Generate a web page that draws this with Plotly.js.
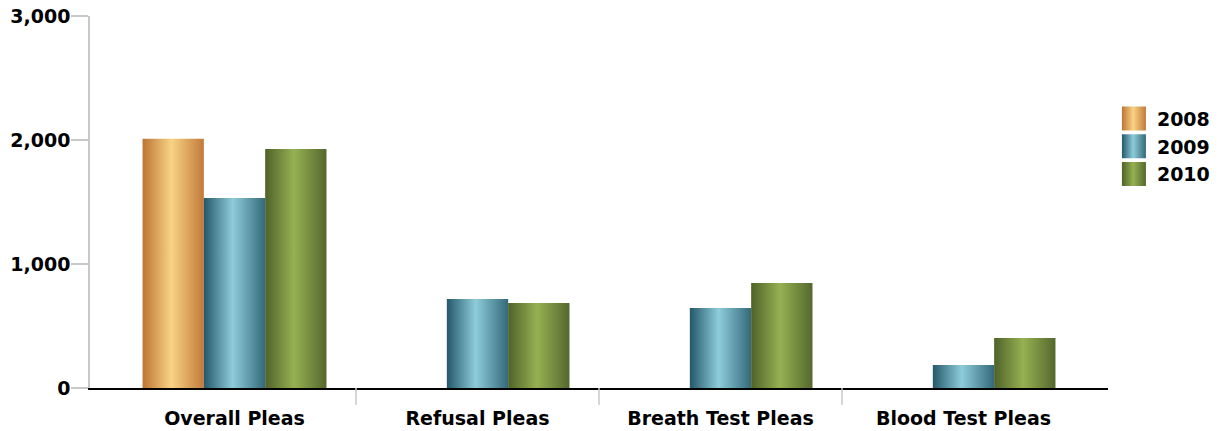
<!DOCTYPE html>
<html>
<head>
<meta charset="utf-8">
<script src="https://cdn.plot.ly/plotly-3.0.1.min.js"></script>
<style>
  html, body { margin: 0; padding: 0; background: #ffffff; }
  #chart { width: 1220px; height: 431px; }
</style>
</head>
<body>
<div id="chart"></div>
<script>
// Plea counts by category and year
const categories = ['Overall Pleas', 'Refusal Pleas', 'Breath Test Pleas', 'Blood Test Pleas'];
const years = ['2008', '2009', '2010'];
const values2008 = [2010, null, null, null];
const values2009 = [1532, 718, 645, 185];
const values2010 = [1927, 685, 847, 403];

// Cylinder-style shading for each year: [edge, highlight, far edge]
const shades = {
  '2008': ['#BD7434', '#F8D385', '#C27A3A'],
  '2009': ['#24586A', '#8ECCDA', '#34697A'],
  '2010': ['#4F6229', '#95B152', '#55682D']
};

const seriesValues = [values2008, values2009, values2010];
const FONT = 'DejaVu Sans, Verdana, sans-serif';

const traces = years.map((yr, i) => ({
  type: 'bar',
  name: yr,
  x: categories,
  y: seriesValues[i],
  marker: { color: shades[yr][1], line: { width: 0 } },
  hoverinfo: 'x+y+name'
}));

// Divider ticks between categories
const dividers = categories.slice(0, -1).map((_, i) => ({
  type: 'line', xref: 'x', yref: 'paper',
  x0: i + 0.5, x1: i + 0.5, y0: 0, y1: -0.046,
  line: { color: '#C8C8C8', width: 1.5 }
}));

const layout = {
  width: 1220,
  height: 431,
  margin: { l: 90, r: 112, t: 16, b: 43 },
  paper_bgcolor: '#ffffff',
  plot_bgcolor: '#ffffff',
  font: { family: FONT, size: 19, color: '#000000', weight: 'bold' },
  barmode: 'group',
  bargap: 0.243,
  bargroupgap: 0,
  showlegend: true,
  legend: {
    xref: 'container', yref: 'paper',
    x: 0.9106, xanchor: 'left',
    y: 0.775, yanchor: 'top',
    itemwidth: 36,
    font: { family: FONT, size: 19, color: '#000000', weight: 'bold' },
    bgcolor: 'rgba(0,0,0,0)',
    borderwidth: 0,
    tracegroupgap: 0
  },
  xaxis: {
    type: 'category',
    range: [-0.5947, 3.5947],
    showline: true,
    linecolor: '#000000',
    linewidth: 1.5,
    layer: 'below traces',
    ticks: '',
    showgrid: false,
    zeroline: false,
    tickfont: { family: FONT, size: 19, color: '#000000', weight: 'bold' },
    ticklabelstandoff: 12
  },
  yaxis: {
    range: [0, 3000],
    tickvals: [0, 1000, 2000, 3000],
    tickformat: ',d',
    showline: true,
    linecolor: '#C8C8C8',
    linewidth: 1.5,
    ticks: 'outside',
    ticklen: 17,
    tickwidth: 1.5,
    tickcolor: '#C8C8C8',
    showgrid: false,
    zeroline: false,
    ticklabelstandoff: -3,
    tickfont: { family: FONT, size: 19, color: '#000000', weight: 'bold' }
  },
  shapes: dividers
};

function addGradients(gd) {
  const svg = gd.querySelector('svg.main-svg');
  const ns = 'http://www.w3.org/2000/svg';
  let defs = svg.querySelector('defs');
  if (!defs) { defs = document.createElementNS(ns, 'defs'); svg.insertBefore(defs, svg.firstChild); }
  years.forEach(yr => {
    const g = document.createElementNS(ns, 'linearGradient');
    g.setAttribute('id', 'shade' + yr);
    g.setAttribute('x1', '0'); g.setAttribute('y1', '0');
    g.setAttribute('x2', '1'); g.setAttribute('y2', '0');
    [[0, shades[yr][0]], [0.47, shades[yr][1]], [1, shades[yr][2]]].forEach(([o, c]) => {
      const s = document.createElementNS(ns, 'stop');
      s.setAttribute('offset', o);
      s.setAttribute('stop-color', c);
      g.appendChild(s);
    });
    defs.appendChild(g);
  });

  // Bars
  gd.querySelectorAll('.barlayer .trace').forEach((tr, i) => {
    tr.querySelectorAll('path').forEach(p => { p.style.fill = 'url(#shade' + years[i] + ')'; });
  });

  // Legend swatches: larger squares with the same shading
  gd.querySelectorAll('.legend .traces').forEach(tr => {
    const label = tr.querySelector('.legendtext').textContent;
    tr.querySelectorAll('.legendpoints path').forEach(p => {
      p.setAttribute('d', 'M12,12H-12V-12H12Z');
      p.style.fill = 'url(#shade' + label + ')';
      p.style.stroke = 'none';
    });
  });
}

Plotly.newPlot('chart', traces, layout, { displayModeBar: false, responsive: false })
  .then(addGradients);
</script>
</body>
</html>
